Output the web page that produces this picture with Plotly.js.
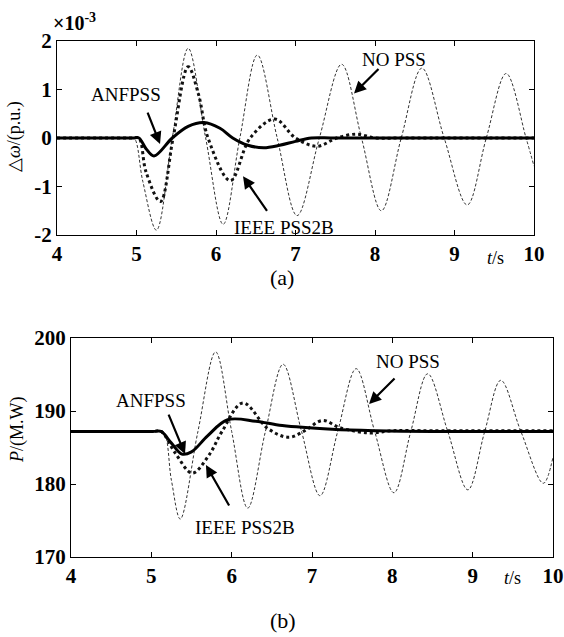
<!DOCTYPE html>
<html><head><meta charset="utf-8">
<script src="https://cdn.plot.ly/plotly-3.0.1.min.js"></script>
<style>html,body{margin:0;padding:0;background:#fff}#g{width:564px;height:637px}</style>
</head><body><div id="g"></div>
<script>
// ---- data ----
// (a) speed deviation, units of 1e-3 p.u.
const tNoA  = [4, 4.9, 4.97, 5.08, 5.25, 5.45, 5.65, 5.87, 6.09, 6.3, 6.52, 6.77, 7.02, 7.3, 7.58, 7.83, 8.08, 8.33, 8.59, 8.87, 9.16, 9.4, 9.65, 9.9, 10];
const vNoA  = [0, 0, 0, -0.9, -1.9, 0, 1.85, 0, -1.78, 0, 1.71, 0, -1.6, 0, 1.52, 0, -1.5, 0, 1.44, 0, -1.38, 0, 1.33, 0, -0.58];
const tAnfA = [4, 4.95, 5.03, 5.12, 5.22, 5.45, 5.65, 5.85, 6.05, 6.21, 6.4, 6.6, 6.8, 7.0, 7.2, 7.5, 10];
const vAnfA = [0, 0, 0, -0.22, -0.37, 0, 0.24, 0.32, 0.2, 0, -0.15, -0.2, -0.15, -0.07, 0, 0, 0];
const tIeeA = [4, 4.95, 5.03, 5.12, 5.3, 5.46, 5.65, 5.78, 5.9, 6.18, 6.43, 6.74, 7.0, 7.27, 7.52, 7.77, 8.0, 8.3, 10];
const vIeeA = [0, 0, 0, -0.7, -1.31, 0, 1.47, 0.9, 0, -0.88, 0, 0.39, 0, -0.17, 0, 0.08, 0, 0, 0];
// (b) electrical power, MW
const tNoB  = [4, 5.05, 5.15, 5.25, 5.36, 5.58, 5.8, 6.0, 6.2, 6.42, 6.64, 6.87, 7.1, 7.32, 7.55, 7.78, 8.02, 8.23, 8.44, 8.69, 8.94, 9.15, 9.35, 9.6, 9.88, 10];
const vNoB  = [187.2, 187.2, 187.2, 180.5, 175.2, 187.2, 198.1, 187.2, 176.7, 187.2, 196.4, 187.2, 178.4, 187.2, 195.8, 187.2, 178.8, 187.2, 195.1, 187.2, 179.2, 187.2, 194.2, 187.2, 180.1, 183.7];
const tAnfB = [4, 5.02, 5.12, 5.25, 5.38, 5.5, 5.7, 5.95, 6.3, 6.63, 7.25, 7.8, 8.5, 10];
const vAnfB = [187.2, 187.2, 187.2, 185.6, 184.1, 184.4, 186.6, 188.8, 188.6, 188.0, 187.5, 187.3, 187.2, 187.2];
const tIeeB = [4, 5.02, 5.12, 5.3, 5.51, 5.72, 5.88, 6.14, 6.45, 6.71, 6.91, 7.13, 7.35, 7.71, 8.0, 8.5, 10];
const vIeeB = [187.2, 187.2, 187.2, 184.2, 181.5, 184.0, 187.2, 191.1, 187.6, 186.4, 187.3, 188.7, 187.7, 187.0, 187.3, 187.3, 187.3];

const xTicks = [4, 5, 6, 7, 8, 9, 10];
const yTicksA = [-2, -1, 0, 1, 2];
const yTickTextA = ['-2', '-1', '0', '1', '2'];
const yTicksB = [170, 180, 190, 200];

// ---- layout helpers ----
const W = 564, H = 637;
const px = x => x / W, py = y => 1 - y / H;
const SERIF = 'Liberation Serif';

const noStyle  = {color: '#333', width: 1, dash: '3px,2px', shape: 'spline', smoothing: 1};
const anfStyle = {color: '#000', width: 3, shape: 'spline', smoothing: 1};
const ieeStyle = {color: '#111', width: 3, dash: 'dot', shape: 'spline', smoothing: 1};

const traces = [
  {x: tNoA, y: vNoA, xaxis: 'x', yaxis: 'y', mode: 'lines', line: noStyle, name: 'NO PSS'},
  {x: tIeeA, y: vIeeA, xaxis: 'x', yaxis: 'y', mode: 'lines', line: ieeStyle, name: 'IEEE PSS2B'},
  {x: tAnfA, y: vAnfA, xaxis: 'x', yaxis: 'y', mode: 'lines', line: anfStyle, name: 'ANFPSS'},
  {x: tNoB, y: vNoB, xaxis: 'x2', yaxis: 'y2', mode: 'lines', line: noStyle, name: 'NO PSS'},
  {x: tIeeB, y: vIeeB, xaxis: 'x2', yaxis: 'y2', mode: 'lines', line: ieeStyle, name: 'IEEE PSS2B'},
  {x: tAnfB, y: vAnfB, xaxis: 'x2', yaxis: 'y2', mode: 'lines', line: anfStyle, name: 'ANFPSS'}
];

const tickFont = {family: SERIF, size: 21, color: '#000', weight: 'bold'};
const axBase = {showline: true, linecolor: '#000', linewidth: 1, mirror: 'ticks', ticks: 'inside',
  ticklen: 5, tickcolor: '#000', showgrid: false, zeroline: false, tickfont: tickFont, fixedrange: true};

const layout = {
  width: W, height: H, margin: {l: 0, r: 0, t: 0, b: 0},
  paper_bgcolor: '#fff', plot_bgcolor: '#fff', showlegend: false,
  font: {family: SERIF, color: '#000'},
  xaxis: Object.assign({}, axBase, {domain: [px(57), px(534)], range: [4, 10], tickvals: xTicks, anchor: 'y'}),
  yaxis: Object.assign({}, axBase, {domain: [py(235), py(41)], range: [-2, 2], tickvals: yTicksA, ticktext: yTickTextA, anchor: 'x'}),
  xaxis2: Object.assign({}, axBase, {domain: [px(71), px(553)], range: [4, 10], tickvals: xTicks, anchor: 'y2'}),
  yaxis2: Object.assign({}, axBase, {domain: [py(557), py(338)], range: [170, 200], tickvals: yTicksB, anchor: 'x2'}),
  annotations: []
};

function txt(s, x, y, size, extra) {
  layout.annotations.push(Object.assign({text: s, xref: 'paper', yref: 'paper', x: px(x), y: py(y),
    xanchor: 'center', yanchor: 'middle', showarrow: false, font: {family: SERIF, size: size, color: '#000'}}, extra || {}));
}
function arrow(xr, yr, tx, ty, ax, ay) {
  layout.annotations.push({text: '', xref: xr, yref: yr, x: tx, y: ty, ax: ax, ay: ay,
    showarrow: true, arrowhead: 2, arrowsize: 1.1, arrowwidth: 2.2, arrowcolor: '#000'});
}

// panel (a)
txt('<b>×10<sup>-3</sup></b>', 74, 22, 20);
txt('△<i>ω</i>/(p.u.)', 15, 137, 18, {textangle: -90});
txt('<i>t</i>/s', 495, 258, 18);
txt('(a)', 282, 277, 22);
txt('ANFPSS', 126, 95, 19);
txt('IEEE PSS2B', 284, 227, 19);
txt('NO PSS', 394, 60, 19);
arrow('x', 'y', 5.296, -0.125, -13, -33);
arrow('x', 'y', 6.34, -0.79, 25, 36);
arrow('x', 'y', 7.736, 0.917, 26, -26);

// panel (b)
txt('<i>P</i>/(M.W)', 17, 430, 18, {textangle: -90});
txt('<i>t</i>/s', 512, 578, 18);
txt('(b)', 283, 620, 22);
txt('ANFPSS', 151, 400, 19);
txt('IEEE PSS2B', 245, 527, 19);
txt('NO PSS', 408, 362, 19);
arrow('x2', 'y2', 5.419, 184.1, -17, -41);
arrow('x2', 'y2', 5.68, 182.6, 24, 42);
arrow('x2', 'y2', 7.71, 190.96, 27, -27);

Plotly.newPlot('g', traces, layout, {staticPlot: true, displayModeBar: false});
</script>
</body></html>
